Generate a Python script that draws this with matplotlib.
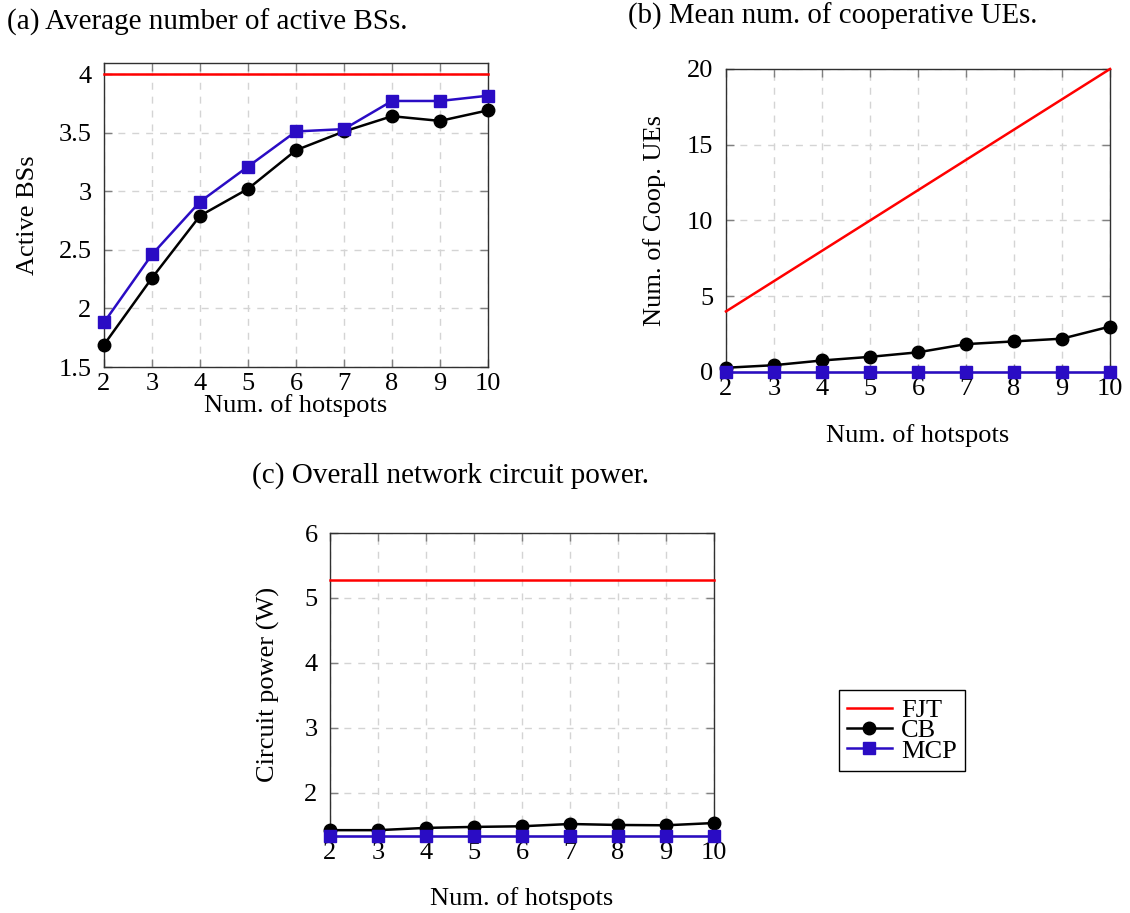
import matplotlib
matplotlib.use("Agg")
from matplotlib import pyplot as plt
from matplotlib.lines import Line2D

plt.rcParams['font.family'] = ['Liberation Serif', 'DejaVu Serif']
plt.rcParams['font.size'] = 19

hotspots = [2, 3, 4, 5, 6, 7, 8, 9, 10]

# (a) active BSs
bs_fjt = [4, 4, 4, 4, 4, 4, 4, 4, 4]
bs_cb = [1.69, 2.26, 2.79, 3.02, 3.35, 3.51, 3.64, 3.60, 3.69]
bs_mcp = [1.88, 2.46, 2.91, 3.21, 3.51, 3.53, 3.77, 3.77, 3.815]

# (b) cooperative UEs
ue_fjt = [4, 6, 8, 10, 12, 14, 16, 18, 20]
ue_cb = [0.28, 0.45, 0.76, 1.0, 1.3, 1.84, 2.02, 2.2, 3.0]
ue_mcp = [0, 0, 0, 0, 0, 0, 0, 0, 0]

# (c) circuit power (W)
pw_fjt = [5.28, 5.28, 5.28, 5.28, 5.28, 5.28, 5.28, 5.28, 5.28]
pw_cb = [1.42, 1.42, 1.455, 1.47, 1.48, 1.515, 1.50, 1.495, 1.53]
pw_mcp = [1.33, 1.33, 1.33, 1.33, 1.33, 1.33, 1.33, 1.33, 1.33]

a_yticks = [1.5, 2, 2.5, 3, 3.5, 4]
a_ylabels = ['1.5', '2', '2.5', '3', '3.5', '4']
b_yticks = [0, 5, 10, 15, 20]
c_yticks = [2, 3, 4, 5, 6]

RED = '#ff0000'
BLUE = '#2a0cc4'
W, H = 1130, 913

fig = plt.figure(figsize=(W / 100, H / 100), dpi=100)


def box(left, top, right, bottom):
    return [left / W, 1 - bottom / H, (right - left) / W, (bottom - top) / H]


def draw(ax, fjt, cb, mcp):
    ax.plot(hotspots, fjt, color=RED, lw=1.8, clip_on=False, zorder=3)
    ax.plot(hotspots, cb, color='black', lw=1.8, marker='o', markersize=9,
            clip_on=False, zorder=4)
    ax.plot(hotspots, mcp, color=BLUE, lw=1.8, marker='s', markersize=9,
            clip_on=False, zorder=5)
    ax.set_xlim(2, 10)
    ax.set_xticks(hotspots)
    ax.grid(True, color='#d4d4d4', linestyle=(0, (5, 5)), lw=1)
    ax.set_axisbelow(True)
    ax.tick_params(direction='in', top=True, right=True, length=6,
                   color='#808080', width=1)
    ax.tick_params(axis='x', pad=4)
    ax.tick_params(axis='y', pad=9)
    for s in ax.spines.values():
        s.set_color('#303030')
        s.set_linewidth(1)


ax_a = fig.add_axes(box(104, 63, 488, 367))
draw(ax_a, bs_fjt, bs_cb, bs_mcp)
ax_a.set_ylim(1.5, 4.094)
ax_a.set_yticks(a_yticks)
ax_a.set_yticklabels(a_ylabels)
ax_a.set_ylabel('Active BSs')
ax_a.set_xlabel('Num. of hotspots')
ax_a.yaxis.set_label_coords(-0.198, 0.5)
ax_a.xaxis.set_label_coords(0.5, -0.128)

ax_b = fig.add_axes(box(726, 69, 1110, 372))
draw(ax_b, ue_fjt, ue_cb, ue_mcp)
ax_b.set_ylim(0, 20)
ax_b.set_yticks(b_yticks)
ax_b.set_ylabel('Num. of Coop. UEs')
ax_b.set_xlabel('Num. of hotspots')
ax_b.yaxis.set_label_coords(-0.185, 0.5)
ax_b.xaxis.set_label_coords(0.5, -0.208)

ax_c = fig.add_axes(box(330, 533, 714, 836))
draw(ax_c, pw_fjt, pw_cb, pw_mcp)
ax_c.set_ylim(1.33, 6)
ax_c.set_yticks(c_yticks)
ax_c.set_ylabel('Circuit power (W)')
ax_c.set_xlabel('Num. of hotspots')
ax_c.yaxis.set_label_coords(-0.161, 0.5)
ax_c.xaxis.set_label_coords(0.5, -0.205)

for lab in (ax_a.xaxis.label, ax_b.xaxis.label, ax_c.xaxis.label,
            ax_a.yaxis.label, ax_b.yaxis.label, ax_c.yaxis.label):
    lab.set_va('center')

fig.text(7 / W, 1 - 22 / H, '(a) Average number of active BSs.',
         ha='left', va='center', fontsize=21)
fig.text(833 / W, 1 - 16 / H, '(b) Mean num. of cooperative UEs.',
         ha='center', va='center', fontsize=20.8)
fig.text(450 / W, 1 - 476 / H, '(c) Overall network circuit power.',
         ha='center', va='center', fontsize=21)

handles = [
    Line2D([], [], color=RED, lw=1.8),
    Line2D([], [], color='black', lw=1.8, marker='o', markersize=9),
    Line2D([], [], color=BLUE, lw=1.8, marker='s', markersize=9),
]
fig.legend(handles, ['FJT', 'CB', 'MCP'], loc='upper left',
           bbox_to_anchor=(839 / W, 1 - 690 / H), fontsize=19,
           frameon=True, fancybox=False, edgecolor='black', framealpha=1,
           handlelength=1.67, handletextpad=0.35, labelspacing=-0.12,
           borderpad=0.32, borderaxespad=0)

fig.savefig('out.png', dpi=100)
